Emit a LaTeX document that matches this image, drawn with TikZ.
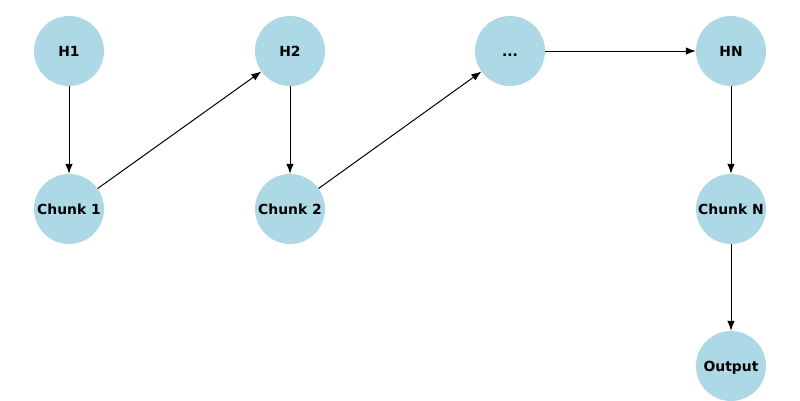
\documentclass[tikz,border=0pt]{standalone}
\usepackage{fontspec}
\setmainfont{DejaVu Sans}
\usetikzlibrary{arrows.meta}
\begin{document}
\begin{tikzpicture}[x=1pt,y=-1pt,
  nd/.style={circle,fill=lightblue,minimum size=70pt,inner sep=0pt,text height=10pt,text depth=0pt,font=\bfseries\fontsize{13.9}{16}\selectfont},
  ar/.style={-{Latex[length=10pt,width=7.5pt]},line width=1pt}]
\definecolor{lightblue}{HTML}{ADD8E6}
\useasboundingbox (0,0) rectangle (800,400);
\node[nd] (h1) at (69,51) {H1};
\node[nd] (h2) at (290,51) {H2};
\node[nd] (hd) at (510,51) {...};
\node[nd] (hn) at (731,51) {HN};
\node[nd] (c1) at (69,209) {Chunk 1};
\node[nd] (c2) at (290,209) {Chunk 2};
\node[nd] (cn) at (731,209) {Chunk N};
\node[nd] (out) at (731,366) {Output};
\draw[ar] (h1) -- (c1);
\draw[ar] (c1) -- (h2);
\draw[ar] (h2) -- (c2);
\draw[ar] (c2) -- (hd);
\draw[ar] (hd) -- (hn);
\draw[ar] (hn) -- (cn);
\draw[ar] (cn) -- (out);
\end{tikzpicture}
\end{document}
